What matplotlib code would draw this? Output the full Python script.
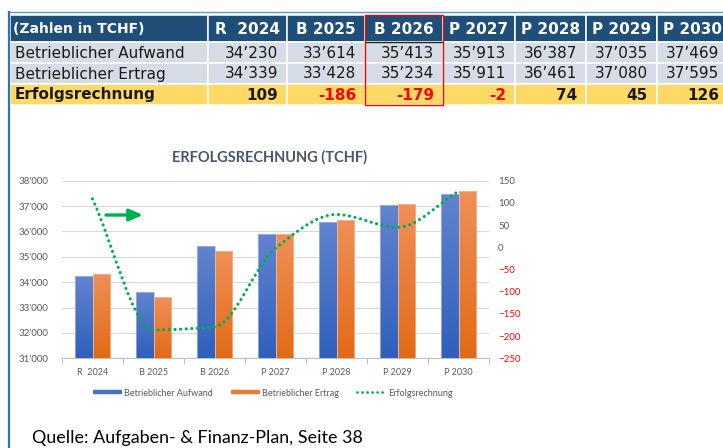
import numpy as np
import matplotlib
matplotlib.use("Agg")
import matplotlib.pyplot as plt
from matplotlib.colors import LinearSegmentedColormap
from matplotlib.path import Path
from matplotlib.patches import PathPatch, Rectangle
from matplotlib.lines import Line2D
from matplotlib.ticker import FuncFormatter

# ---------------- data ----------------
categories = ["R  2024", "B 2025", "B 2026", "P 2027", "P 2028", "P 2029", "P 2030"]
aufwand = [34230, 33614, 35413, 35913, 36387, 37035, 37469]
ertrag = [34339, 33428, 35234, 35911, 36461, 37080, 37595]
erfolg = [109, -186, -179, -2, 74, 45, 126]
row_labels = ["Betrieblicher Aufwand", "Betrieblicher Ertrag", "Erfolgsrechnung"]
header_label = "(Zahlen in TCHF)"
title = "ERFOLGSRECHNUNG (TCHF)"
source = "Quelle: Aufgaben- & Finanz-Plan, Seite 38"
left_ticks = list(range(31000, 38001, 1000))
right_ticks = list(range(-250, 151, 50))

W, H = 723, 448
fig = plt.figure(figsize=(W / 100, H / 100), dpi=100)
fig.patch.set_facecolor("white")

# ---------------- background / table (pixel coordinates) ----------------
bg = fig.add_axes([0, 0, 1, 1])
bg.set_xlim(0, W)
bg.set_ylim(H, 0)
bg.axis("off")

bg.plot([8, W], [12, 12], color="#5B9BD5", lw=1.0)
bg.plot([8.5, 8.5], [12, H], color="#2E75B6", lw=1.6)

col_edges = [10, 208, 287, 365, 443, 515, 586, 657, 728]
row_edges = [15, 42, 63, 84, 105]
hdr_c = "#1F4E79"
row_c = "#D6DCE5"
yel_c = "#FFD966"

def fmt(v):
    return f"{v:,}".replace(",", "\u2019")

row_vals = [aufwand, ertrag, erfolg]
for r in range(4):
    y0, y1 = row_edges[r], row_edges[r + 1]
    fc = hdr_c if r == 0 else (yel_c if r == 3 else row_c)
    for c in range(8):
        x0, x1 = col_edges[c], col_edges[c + 1]
        bg.add_patch(Rectangle((x0, y0), x1 - x0, y1 - y0, facecolor=fc,
                               edgecolor="white", lw=1.1))
        yc = (y0 + y1) / 2 + 0.5
        if r == 0:
            if c == 0:
                bg.text(x0 + 3, yc, header_label, color="white", fontsize=10,
                        fontweight="bold", va="center", ha="left", family="DejaVu Sans")
            else:
                bg.text((x0 + x1) / 2, yc, categories[c - 1], color="white", fontsize=11,
                        fontweight="bold", va="center", ha="center", family="DejaVu Sans")
        else:
            bold = r == 3
            if c == 0:
                bg.text(x0 + 5, yc, row_labels[r - 1], color="#1a1a1a", fontsize=11,
                        fontweight="bold" if bold else "normal", va="center", ha="left",
                        family="DejaVu Sans")
            else:
                v = row_vals[r - 1][c - 1]
                col = "#FF0000" if (bold and v < 0) else "#1a1a1a"
                bg.text(x1 - 9, yc, fmt(v), color=col, fontsize=11,
                        fontweight="bold" if bold else "normal", va="center", ha="right",
                        family="DejaVu Sans")
# highlight box around B 2026 column
bg.add_patch(Rectangle((col_edges[3], row_edges[0]), col_edges[4] - col_edges[3],
                       row_edges[4] - row_edges[0], facecolor="none",
                       edgecolor="#FF0000", lw=1.0, zorder=5))
bg.plot([col_edges[3] + 1, col_edges[4] - 1], [row_edges[1], row_edges[1]],
        color="#222222", lw=1.0, zorder=5)

# source text
bg.text(32, 438, source, fontsize=12.9, color="#000000", va="center", ha="left",
        family="Lato")

# ---------------- chart ----------------
left, right, top, bottom = 62, 489, 180.7, 358.3
ax = fig.add_axes([left / W, 1 - bottom / H, (right - left) / W, (bottom - top) / H])
ax.set_facecolor("none")
x = np.arange(len(categories))
bw = 0.29
ymin, ymax = left_ticks[0], left_ticks[-1]

bars1 = ax.bar(x - bw / 2, np.array(aufwand) - ymin, bottom=ymin, width=bw,
               color="#4472C4", edgecolor="#A9BDE6", lw=0.5, zorder=3)
bars2 = ax.bar(x + bw / 2, np.array(ertrag) - ymin, bottom=ymin, width=bw,
               color="#ED7D31", edgecolor="#F7BE9A", lw=0.5, zorder=3)

def gradient(bars, c_top, c_bot):
    cmap = LinearSegmentedColormap.from_list("g", [c_bot, c_top])
    grad = np.linspace(0, 1, 256).reshape(-1, 1)
    for b in bars:
        x0, y0 = b.get_x(), b.get_y()
        im = ax.imshow(grad, extent=[x0, x0 + b.get_width(), y0, y0 + b.get_height()],
                       origin="lower", aspect="auto", cmap=cmap, zorder=2.9,
                       interpolation="bilinear")
        im.set_clip_path(b)
        b.set_facecolor("none")

gradient(bars1, "#6284CE", "#2F60BD")
gradient(bars2, "#EF9058", "#E26A16")

ax.set_xlim(-0.5, len(categories) - 0.5)
ax.set_ylim(ymin, ymax)
ax.set_yticks(left_ticks)
ax.yaxis.set_major_formatter(FuncFormatter(lambda v, p: f"{int(v):,}".replace(",", "'")))
ax.grid(axis="y", color="#D9D9D9", lw=0.8, zorder=0)
ax.set_axisbelow(True)
for s in ["top", "right", "left"]:
    ax.spines[s].set_visible(False)
ax.spines["bottom"].set_color("#BFBFBF")
ax.spines["bottom"].set_linewidth(0.8)
ax.set_xticks(x)
ax.set_xticklabels(categories)
ax.set_xticks(np.arange(-0.5, len(categories), 1.0), minor=True)
ax.tick_params(axis="x", which="major", length=0, pad=7, labelsize=6.5,
               labelcolor="#595959")
ax.tick_params(axis="x", which="minor", length=4, color="#BFBFBF", width=0.8)
ax.tick_params(axis="y", length=0, pad=9.5, labelsize=7, labelcolor="#595959")
for lab in ax.get_xticklabels() + ax.get_yticklabels():
    lab.set_family("Lato")

ax2 = ax.twinx()
ax2.set_ylim(right_ticks[0], right_ticks[-1])
ax2.set_yticks(right_ticks)
for s in ax2.spines.values():
    s.set_visible(False)
ax2.tick_params(axis="y", length=0, pad=6.5, labelsize=7)
for lab, v in zip(ax2.get_yticklabels(), right_ticks):
    lab.set_family("Lato")
    lab.set_color("#FF0000" if v < 0 else "#595959")

# smoothed dotted line: monotone cubic Bezier segments through the data points
yv = np.array(erfolg, dtype=float)
xv = x.astype(float)
d = np.diff(yv) / np.diff(xv)
m = np.zeros_like(yv)
m[0], m[-1] = d[0], d[-1]
for k in range(1, len(yv) - 1):
    if d[k - 1] * d[k] > 0:
        m[k] = 2.0 / (1.0 / d[k - 1] + 1.0 / d[k])
verts = [(xv[0], yv[0])]
codes = [Path.MOVETO]
for k in range(len(yv) - 1):
    h = xv[k + 1] - xv[k]
    verts += [(xv[k] + h / 3, yv[k] + m[k] * h / 3),
              (xv[k + 1] - h / 3, yv[k + 1] - m[k + 1] * h / 3),
              (xv[k + 1], yv[k + 1])]
    codes += [Path.CURVE4] * 3
pp = PathPatch(Path(verts, codes), fill=False, edgecolor="#00B050", lw=2.3,
               linestyle=(0, (0.01, 1.75)), capstyle="round", zorder=5,
               transform=ax2.transData)
ax2.add_patch(pp)

# green arrow annotation
bg.annotate("", xy=(143, 215), xytext=(106, 215),
            arrowprops=dict(arrowstyle="-|>,head_length=0.8,head_width=0.35",
                            color="#00B050", lw=2.4, shrinkA=0, shrinkB=0))

# title
fig.text(270 / W, 1 - 157 / H, title, fontsize=10.5, fontweight="bold",
         color="#4A5568", ha="center", va="center", family="Lato")

# legend
handles = [Line2D([], [], color="#4472C4", lw=3.2, solid_capstyle="butt"),
           Line2D([], [], color="#ED7D31", lw=3.2, solid_capstyle="butt"),
           Line2D([], [], color="#00B050", lw=2.0, linestyle=(0, (0.01, 1.8)),
                  dash_capstyle="round")]
leg = fig.legend(handles, row_labels, loc="center", bbox_to_anchor=(273 / W, 1 - 393 / H),
                 ncol=3, frameon=False, handlelength=3.2,
                 handletextpad=0.25, columnspacing=2.0,
                 prop={"family": "Lato", "size": 6.5})
for t in leg.get_texts():
    t.set_color("#595959")

fig.savefig("out.png", dpi=100)
